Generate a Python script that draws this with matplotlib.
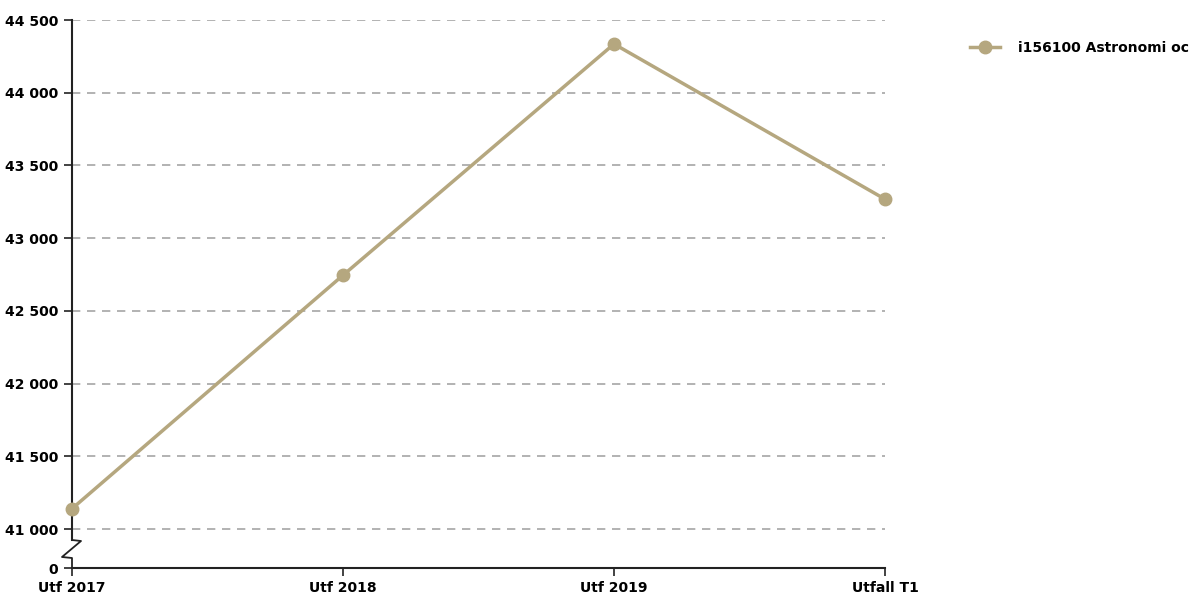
import matplotlib
matplotlib.use("Agg")
import matplotlib.pyplot as plt
from matplotlib.lines import Line2D

categories = ["Utf 2017", "Utf 2018", "Utf 2019", "Utfall T1"]
values = [41140, 42745, 44335, 43268]
series_name = "i156100 Astronomi oc"
ytick_values = [41000, 41500, 42000, 42500, 43000, 43500, 44000, 44500]
ytick_labels = ["41 000", "41 500", "42 000", "42 500", "43 000", "43 500", "44 000", "44 500"]
ybottom = 40732  # position of the broken-axis "0"

color = "#b5a77f"
plt.rcParams['font.family'] = ['DejaVu Sans']
FS = 10

fig = plt.figure(figsize=(11.92, 5.96), dpi=100)
W, H = 1192, 596
x0, x1, y0, y1 = 72, 885, 20, 568
ax = fig.add_axes([x0 / W, 1 - y1 / H, (x1 - x0) / W, (y1 - y0) / H])

xs = list(range(len(categories)))
ax.plot(xs, values, color=color, lw=2.5, marker="o", ms=9, zorder=3, clip_on=False)
ax.set_xlim(0, len(categories) - 1)
ax.set_ylim(ybottom, 44500)

ax.set_yticks([ybottom] + ytick_values)
ax.set_yticklabels(["0"] + ytick_labels, fontsize=FS, fontweight="bold")
ax.set_xticks(xs)
ax.set_xticklabels(categories, fontsize=FS, fontweight="bold")
ax.tick_params(axis="y", length=6, width=1.2, color="#222222", pad=4)
ax.tick_params(axis="x", length=6, width=1.2, color="#222222", pad=3)

for v in ytick_values:
    ax.axhline(v, color="#a6a6a6", lw=1.2, ls=(0, (5, 4)), zorder=1)

for s in ["top", "right", "left"]:
    ax.spines[s].set_visible(False)
ax.spines["bottom"].set_color("#222222")
ax.spines["bottom"].set_linewidth(1.5)

# left axis with break, drawn in axes coordinates
ah = y1 - y0
aw = x1 - x0
def fy(py):
    return (y1 - py) / ah
def fx(px):
    return (px - x0) / aw
ax.add_line(Line2D([0, 0], [fy(540), 1], transform=ax.transAxes, color="#222222", lw=1.5, clip_on=False))
ax.add_line(Line2D([fx(72), fx(81), fx(62), fx(72), fx(72)],
                   [fy(540), fy(541), fy(557), fy(558), fy(568)],
                   transform=ax.transAxes, color="#222222", lw=1.3, clip_on=False))

leg_handle = Line2D([], [], color=color, lw=2.5, marker="o", ms=9)
fig.legend([leg_handle], [series_name], loc="upper left", bbox_to_anchor=(957 / W, 1 - 28 / H),
           frameon=False, prop={"size": FS, "weight": "bold"}, handlelength=2.2, handletextpad=1.3)

fig.savefig("out.png", dpi=100)
